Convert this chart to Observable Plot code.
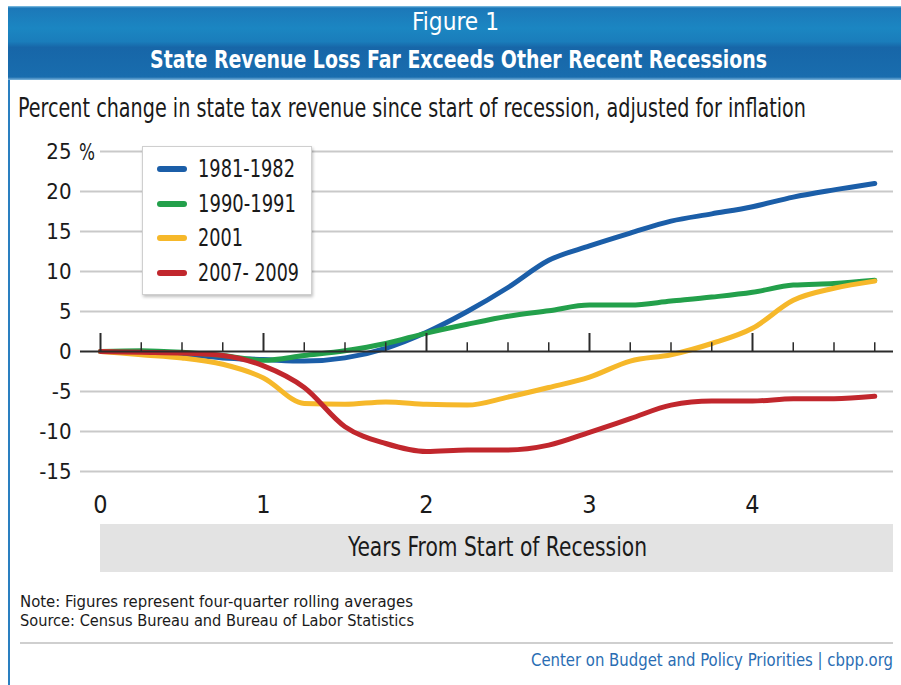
<!DOCTYPE html>
<html>
<head>
<meta charset="utf-8">
<script src="https://cdn.jsdelivr.net/npm/d3@7"></script>
<script src="https://cdn.jsdelivr.net/npm/@observablehq/plot@0.6"></script>
<style>
  html, body { margin: 0; padding: 0; background: #fff; }
  #root { position: relative; width: 901px; height: 685px; overflow: hidden; background: #fff;
    font-family: "Liberation Sans Narrow", "DejaVu Sans Condensed", "Arial Narrow", sans-serif; }
  .abs { position: absolute; white-space: nowrap; }
  #chart { position: absolute; left: 0; top: 140px; }
</style>
</head>
<body>
<div id="root"></div>
<script>
// ---- data ----
const years = [0, 0.25, 0.5, 0.75, 1, 1.25, 1.5, 1.75, 2, 2.25, 2.5, 2.75, 3, 3.25, 3.5, 3.75, 4, 4.25, 4.5, 4.75];
const r1981 = [0, 0, -0.3, -0.8, -1.0, -1.2, -0.8, 0.4, 2.4, 5.0, 8.0, 11.4, 13.2, 14.8, 16.3, 17.2, 18.1, 19.3, 20.2, 21.0];
const r1990 = [0, 0.1, -0.1, -0.5, -1.1, -0.5, 0.1, 1.0, 2.3, 3.4, 4.4, 5.1, 5.8, 5.8, 6.3, 6.8, 7.4, 8.3, 8.5, 8.9];
const r2001 = [0, -0.4, -0.8, -1.6, -3.3, -6.5, -6.6, -6.3, -6.6, -6.7, -5.7, -4.5, -3.2, -1.2, -0.4, 1.0, 2.9, 6.4, 7.9, 8.8];
const r2007 = [0, -0.1, -0.2, -0.5, -1.8, -4.5, -9.4, -11.5, -12.5, -12.3, -12.3, -11.7, -10.1, -8.4, -6.7, -6.2, -6.2, -5.9, -5.9, -5.6];
const seriesNames = ["1981-1982", "1990-1991", "2001", "2007- 2009"];
const seriesColors = ["#1b5ea8", "#23a04b", "#f6b82a", "#c1272d"];
const yTicks = [-15, -10, -5, 0, 5, 10, 15, 20, 25];
const xTicks = [0, 1, 2, 3, 4];
const quarterTicks = [0, 0.25, 0.5, 0.75, 1, 1.25, 1.5, 1.75, 2, 2.25, 2.5, 2.75, 3, 3.25, 3.5, 3.75, 4, 4.25, 4.5, 4.75];
const titleText = "Figure 1";
const headline = "State Revenue Loss Far Exceeds Other Recent Recessions";
const subtitle = "Percent change in state tax revenue since start of recession, adjusted for inflation";
const xLabel = "Years From Start of Recession";
const note = "Note: Figures represent four-quarter rolling averages";
const source = "Source: Census Bureau and Bureau of Labor Statistics";
const credit = "Center on Budget and Policy Priorities | cbpp.org";

const allSeries = [r1981, r1990, r2001, r2007];
const rows = [];
allSeries.forEach((vals, i) => vals.forEach((v, j) => rows.push({year: years[j], value: v, series: seriesNames[i]})));

const root = document.getElementById("root");

function el(style, html) {
  const d = document.createElement("div");
  d.className = "abs";
  Object.assign(d.style, style);
  if (html !== undefined) d.textContent = html;
  root.appendChild(d);
  return d;
}
const fits = [];
function text(str, {x, y, w, size, weight = "normal", color = "#1a1a1a"}) {
  const d = el({left: x + "px", top: (y - size * 0.6) + "px", fontSize: size + "px", lineHeight: (size * 1.2) + "px",
    fontWeight: weight, color: color, transformOrigin: "0 50%"}, str);
  fits.push([d, w]);
  return d;
}

// header
el({left: "8px", top: "6px", width: "893px", height: "74px",
  background: "linear-gradient(to bottom, #8cc6e6 0px, #1c78b8 2px, #1b86c2 30%, #1a7dbb 48%, #1766a8 56%, #196dae 96%, #7fb6dc 100%)"});
el({left: "8px", top: "80px", width: "2px", height: "605px", background: "#2a7fc0"});
text(titleText, {x: 412, y: 22, w: 87, size: 24, color: "#fff"});
text(headline, {x: 150, y: 60, w: 617, size: 25, weight: "bold", color: "#fff"});
text(subtitle, {x: 18, y: 108, w: 788, size: 27, color: "#1a1a1a"});

// chart
const xMin = -20 / 163, xMax = 793 / 163;
const chart = Plot.plot({
  width: 901,
  height: 385,
  marginTop: 11,
  marginBottom: 54,
  marginLeft: 80,
  marginRight: 8,
  x: {domain: [xMin, xMax]},
  y: {domain: [-15, 25]},
  color: {domain: seriesNames, range: seriesColors},
  style: {fontFamily: '"Liberation Sans Narrow", "DejaVu Sans Condensed", sans-serif', color: "#1a1a1a", background: "transparent"},
  marks: [
    Plot.ruleY(yTicks.filter(v => v !== 0 && v !== 25), {stroke: "#c9c9c9", strokeWidth: 2}),
    Plot.ruleY([25], {x1: 0, x2: xMax, stroke: "#c9c9c9", strokeWidth: 2}),
    Plot.axisY(yTicks, {tickSize: 0, tickPadding: 9, fontSize: 22, tickFormat: d => String(d), label: null}),
    Plot.axisX(xTicks, {tickSize: 0, tickPadding: 24, fontSize: 25, tickFormat: d => String(d), label: null}),
    Plot.line(rows, {x: "year", y: "value", stroke: "series", z: "series", strokeWidth: 5, curve: "monotone-x", strokeLinecap: "round", strokeLinejoin: "round"}),
    Plot.ruleY([0], {stroke: "#2b2b2b", strokeWidth: 2}),
    Plot.ruleX(quarterTicks, {x: d => d, y1: 0, y2: d => (d % 1 === 0 ? 2.25 : 1.1), stroke: "#2b2b2b", strokeWidth: d => (d % 1 === 0 ? 2 : 1.5)})
  ]
});
chart.id = "chart";
root.appendChild(chart);
text("%", {x: 79, y: 153, w: 16, size: 23});

// legend
el({left: "142px", top: "146px", width: "170px", height: "149px", background: "#fff",
  border: "1px solid #cfcfcf", boxShadow: "1px 2px 3px rgba(0,0,0,0.25)", boxSizing: "border-box"});
const legendY = [169, 204, 238, 273];
const legendW = [97, 98, 45, 101];
seriesNames.forEach((n, i) => {
  el({left: "157px", top: (legendY[i] - 3) + "px", width: "30px", height: "6px", borderRadius: "3px", background: seriesColors[i]});
  text(n, {x: 198, y: legendY[i], w: legendW[i], size: 25});
});

// x axis title band
el({left: "100px", top: "524px", width: "793px", height: "48px", background: "#e3e3e3"});
text(xLabel, {x: 348, y: 547, w: 299, size: 27});

// footer
text(note, {x: 20, y: 602, w: 393, size: 16.5});
text(source, {x: 20, y: 621, w: 394, size: 16.5});
el({left: "20px", top: "642px", width: "873px", height: "2px", background: "#cfcfcf"});
text(credit, {x: 531, y: 660, w: 362, size: 18, color: "#2a6db3"});

// fit text widths
fits.forEach(([d, w]) => {
  const actual = d.getBoundingClientRect().width;
  if (actual > 0) d.style.transform = `scaleX(${w / actual})`;
});
</script>
</body>
</html>
